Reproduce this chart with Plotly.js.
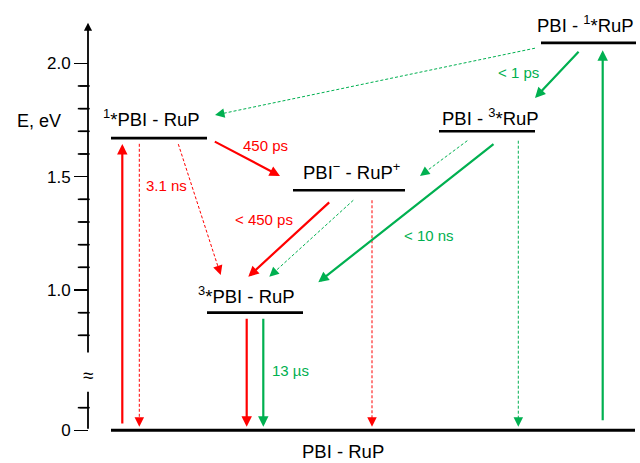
<!DOCTYPE html>
<html>
<head>
<meta charset="utf-8">
<script src="https://cdn.plot.ly/plotly-3.0.1.min.js"></script>
<style>
  html, body { margin: 0; padding: 0; background: #ffffff; }
  #chart { width: 640px; height: 463px; }
</style>
</head>
<body>
<div id="chart"></div>
<script>
// ---------------- data ----------------
// Energy levels of the PBI - RuP dyad (eV)
const levelNames    = ['G', 'S1PBI', 'CT', 'T1PBI', 'T1RuP', 'S1RuP'];
const levelLabels   = ['PBI - RuP', '<sup>1</sup>*PBI - RuP', 'PBI<sup>\u2212</sup> - RuP<sup>+</sup>',
                       '<sup>3</sup>*PBI - RuP', 'PBI - <sup>3</sup>*RuP', 'PBI - <sup>1</sup>*RuP'];
const levelEnergies = [0, 1.67, 1.44, 0.90, 1.70, 2.09];

// Transitions (indices into the level arrays)
const transFrom   = [0, 1, 1, 1, 2, 2, 2, 3, 3, 0, 5, 5, 4, 4, 4];
const transTo     = [1, 0, 3, 2, 3, 3, 0, 0, 0, 5, 4, 1, 2, 3, 0];
const transPath   = ['PBI', 'PBI', 'PBI', 'PBI', 'PBI', 'RuP', 'PBI', 'PBI', 'RuP',
                     'RuP', 'RuP', 'RuP', 'RuP', 'RuP', 'RuP'];
const transSolid  = [true, false, false, true, true, false, false, true, true,
                     true, true, false, false, true, false];
const transLabels = ['', '3.1 ns', '', '450 ps', '< 450 ps', '', '', '', '13 \u00b5s',
                     '', '< 1 ps', '', '', '< 10 ns', ''];

// Energy axis
const tickValues  = [0, 1.0, 1.5, 2.0];
const tickText    = ['0', '1.0', '1.5', '2.0'];
const minorValues = [0.1, 0.8, 0.9, 1.1, 1.2, 1.3, 1.4, 1.6, 1.7, 1.8, 1.9];

// ---------------- layout geometry ----------------
const W = 640, H = 463, AXIS_X = 88;
const Y_RANGE = [0.2369, 2.2792];
const GROUND_SHIFT = 0.381;                 // lower part of the broken axis is lifted by this amount
const disp = e => (e < 0.5 ? e + GROUND_SHIFT : e);
const PX = (Y_RANGE[1] - Y_RANGE[0]) / H;   // eV per pixel
const yAtRow = py => Y_RANGE[1] - py * PX;  // y value at a pixel row

const FONT = 'Arial, "Liberation Sans", sans-serif';
const COLORS = { PBI: '#ff0000', RuP: '#00b050' };

// horizontal extent of each level line and its label
const levelX0 = [111, 111, 293, 207, 439, 541];
const levelX1 = [635, 207, 405, 303, 535, 636];
const levelLabelX = [343, 151, 351, 246, 490, 585];
const levelLabelBase = [-27.5, 13, 12.7, 11, 8, 12.7];   // baseline height above the line (px)

// arrow endpoints: x positions and offsets (px, upward) from the level lines
const arrowX0   = [122.3, 139.3, 178.3, 213.3, 330.7, 353.3, 372, 246.7, 263.3, 602.7, 580, 535, 467.3, 495, 518.3];
const arrowX1   = [122.3, 139.3, 220.7, 280, 248.3, 269.3, 372, 246.7, 263.3, 602.7, 535, 215, 420, 318.3, 518.3];
const arrowOff0 = [5.3, -5.7, -6, -2.7, -10.7, -10, -10, -4.6, -4.6, 8.6, -7.3, -5.3, -9.4, -11.7, -9.4];
const arrowOff1 = [-6, 3.6, 37.7, 14.3, 36, 36, 3.6, 3.6, 3.6, -7.3, 33.3, 23, 14.3, 30.4, 3.6];

// lifetime label centres (page pixels)
const labelCX = [null, 166, null, 265, 263.7, null, null, null, 290.3, null, 518.3, null, null, 429, null];
const labelCY = [null, 185.5, null, 145, 219.5, null, null, null, 370, null, 72, null, null, 235, null];

// ---------------- build ----------------
const traces = [];
const annotations = [];
const arrow = (x, y, ax, ay, head, size, width, color) => ({
  x: x, y: y, ax: ax, ay: ay, xref: 'x', yref: 'y', axref: 'x', ayref: 'y',
  text: '', showarrow: true, arrowhead: head, arrowsize: size, arrowwidth: width, arrowcolor: color
});

// level lines
levelEnergies.forEach((e, i) => {
  traces.push({
    type: 'scatter', mode: 'lines', hoverinfo: 'skip', showlegend: false,
    x: [levelX0[i], levelX1[i]], y: [disp(e), disp(e)],
    line: { color: '#000000', width: i === 0 ? 3 : 2.6 }
  });
  const fs = 18.5;
  annotations.push({
    x: levelLabelX[i], y: disp(e), xref: 'x', yref: 'y',
    text: levelLabels[i], showarrow: false, xanchor: 'center', yanchor: 'middle',
    yshift: levelLabelBase[i] + 0.36 * fs,
    font: { family: FONT, size: fs, color: '#000000' }
  });
});

// transitions
transFrom.forEach((f, i) => {
  const t = transTo[i];
  const color = COLORS[transPath[i]];
  const x0 = arrowX0[i], x1 = arrowX1[i];
  const y0 = disp(levelEnergies[f]) + arrowOff0[i] * PX;
  const y1 = disp(levelEnergies[t]) + arrowOff1[i] * PX;
  if (transSolid[i]) {
    annotations.push(arrow(x1, y1, x0, y0, 2, 0.95, 2.2, color));
  } else {
    const dxp = x1 - x0, dyp = (y1 - y0) / PX;
    const len = Math.hypot(dxp, dyp);
    const head = 10;
    const hx = x1 - dxp / len * head, hy = y1 - dyp / len * head * PX;
    const ex = x1 - dxp / len * (head - 2), ey = y1 - dyp / len * (head - 2) * PX;
    traces.push({
      type: 'scatter', mode: 'lines', hoverinfo: 'skip', showlegend: false,
      x: [x0, ex], y: [y0, ey],
      line: { color: color, width: 1, dash: '3px,2px' }
    });
    annotations.push(arrow(x1, y1, hx, hy, 2, 1.9, 1, color));
  }
  if (transLabels[i]) {
    annotations.push({
      x: labelCX[i], y: yAtRow(labelCY[i]), xref: 'x', yref: 'y',
      text: transLabels[i], showarrow: false, xanchor: 'center', yanchor: 'middle',
      font: { family: FONT, size: 15, color: color }
    });
  }
});

// broken energy axis: upper segment with arrow head, lower segment, minor ticks, break mark
annotations.push(arrow(AXIS_X, 2.179, AXIS_X, 0.718, 2, 0.9, 1.8, '#000000'));
annotations.push(arrow(AXIS_X, disp(0.17), AXIS_X, disp(0), 0, 1, 1.8, '#000000'));
const MINOR_LEN = 8.5;
const minorX = [], minorY = [];
minorValues.forEach(v => {
  minorX.push(AXIS_X - MINOR_LEN, AXIS_X, null);
  minorY.push(disp(v), disp(v), null);
});
traces.push({
  type: 'scatter', mode: 'lines', hoverinfo: 'skip', showlegend: false,
  x: minorX, y: minorY, connectgaps: false,
  line: { color: '#000000', width: 1.5 }
});
// the same minor ticks as horizontal line markers centred on each tick
traces.push({
  type: 'scatter', mode: 'markers', hoverinfo: 'skip', showlegend: false, cliponaxis: false,
  x: minorValues.map(() => AXIS_X - MINOR_LEN / 2), y: minorValues.map(disp),
  marker: { symbol: 'line-ew', size: MINOR_LEN, color: '#000000', line: { color: '#000000', width: 1.5 } }
});
annotations.push({
  x: 87.8, y: yAtRow(375.5), xref: 'x', yref: 'y',
  text: '\u2248', showarrow: false, xanchor: 'center', yanchor: 'middle',
  font: { family: FONT, size: 19, color: '#000000' }
});
annotations.push({
  x: 39, y: yAtRow(121), xref: 'x', yref: 'y',
  text: 'E, eV', showarrow: false, xanchor: 'center', yanchor: 'middle',
  font: { family: FONT, size: 18, color: '#000000' }
});

const layout = {
  width: W, height: H,
  margin: { l: 0, r: 0, t: 0, b: 0, pad: 0 },
  paper_bgcolor: '#ffffff', plot_bgcolor: '#ffffff',
  showlegend: false,
  xaxis: { range: [0, W], visible: false, fixedrange: true },
  yaxis: {
    range: Y_RANGE, fixedrange: true, anchor: 'free', position: AXIS_X / W,
    showgrid: false, zeroline: false, showline: false,
    tickmode: 'array', tickvals: tickValues.map(disp), ticktext: tickText,
    ticks: 'outside', ticklen: 14, tickwidth: 1.5, tickcolor: '#000000',
    tickfont: { family: FONT, size: 17, color: '#000000' }
  },
  annotations: annotations
};

Plotly.newPlot('chart', traces, layout, { staticPlot: true, displayModeBar: false });
</script>
</body>
</html>
